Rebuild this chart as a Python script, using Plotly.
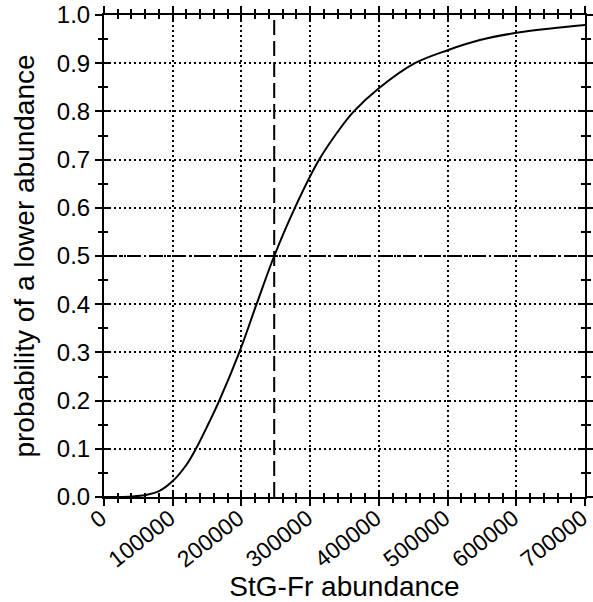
import plotly.graph_objects as go

# Data
abundance = [0, 20000, 40000, 60000, 80000, 100000, 120000, 133800, 150000, 167800,
             196900, 222000, 247700, 277800, 313200, 343300, 363600, 400000, 452400,
             500000, 547000, 600000, 650000, 700000]
probability = [0.0, 0.0, 0.001, 0.004, 0.012, 0.033, 0.067, 0.1, 0.146, 0.2,
               0.3, 0.4, 0.5, 0.6, 0.7, 0.764, 0.8, 0.848, 0.9,
               0.927, 0.948, 0.963, 0.972, 0.979]
median_abundance = 247700
median_prob = 0.5
x_ticks = [0, 100000, 200000, 300000, 400000, 500000, 600000, 700000]
x_tick_labels = ["0", "100000", "200000", "300000", "400000", "500000", "600000", "700000"]
y_ticks = [0.0, 0.1, 0.2, 0.3, 0.4, 0.5, 0.6, 0.7, 0.8, 0.9, 1.0]
y_tick_labels = ["0.0", "0.1", "0.2", "0.3", "0.4", "0.5", "0.6", "0.7", "0.8", "0.9", "1.0"]
x_range = [0, 700000]
y_range = [0, 1.0]

FONT = "Liberation Sans, Arial, sans-serif"

fig = go.Figure()

# horizontal dash-dot at 0.5
fig.add_trace(go.Scatter(x=x_range, y=[median_prob, median_prob], mode="lines",
                         line=dict(color="black", width=2, dash="13px,4px,2px,4px"),
                         hoverinfo="skip", showlegend=False))
# vertical dashed at median
fig.add_trace(go.Scatter(x=[median_abundance, median_abundance], y=y_range, mode="lines",
                         line=dict(color="black", width=2, dash="15px,6px"),
                         hoverinfo="skip", showlegend=False))
# CDF curve
fig.add_trace(go.Scatter(x=abundance, y=probability, mode="lines",
                         line=dict(color="black", width=2, shape="spline", smoothing=1.0),
                         showlegend=False))
# invisible trace for overlay axes (inside half of cross ticks)
fig.add_trace(go.Scatter(x=x_range, y=y_range, mode="lines", xaxis="x2", yaxis="y2",
                         line=dict(color="rgba(0,0,0,0)", width=0),
                         hoverinfo="skip", showlegend=False))

common_axis = dict(showline=True, linecolor="black", linewidth=2,
                   ticks="outside", tickcolor="black", tickwidth=2, ticklen=7,
                   mirror="ticks", zeroline=False, automargin=False,
                   ticklabeloverflow="allow")

fig.update_layout(
    width=593, height=602,
    paper_bgcolor="white", plot_bgcolor="white",
    margin=dict(l=104, r=8, t=15, b=105),
    xaxis=dict(range=x_range, tickvals=x_ticks, ticktext=x_tick_labels, tickangle=-38,
               ticklabelstandoff=-10, ticklabelshift=-3,
               tickfont=dict(family=FONT, size=23, color="black"),
               showgrid=True, gridcolor="black", gridwidth=1.5, griddash="2px,3px",
               minor=dict(dtick=20000, tick0=0, ticks="outside", ticklen=4,
                          tickwidth=2, tickcolor="black", showgrid=False),
               title=dict(text="StG-Fr abundance", font=dict(family=FONT, size=28, color="black"),
                          standoff=8),
               **common_axis),
    yaxis=dict(range=y_range, tickvals=y_ticks, ticktext=y_tick_labels,
               tickfont=dict(family=FONT, size=24, color="black"),
               showgrid=True, gridcolor="black", gridwidth=1.5, griddash="2px,3px",
               minor=dict(dtick=0.05, tick0=0, ticks="outside", ticklen=4,
                          tickwidth=2, tickcolor="black", showgrid=False),
               title=dict(text="probability of a lower abundance",
                          font=dict(family=FONT, size=28, color="black"), standoff=14),
               **common_axis),
    xaxis2=dict(overlaying="x", matches="x", range=x_range, showgrid=False, zeroline=False,
                showline=False, showticklabels=False, tickvals=x_ticks, automargin=False,
                ticks="inside", ticklen=7, tickwidth=2, tickcolor="black", mirror="ticks",
                minor=dict(dtick=20000, tick0=0, ticks="inside", ticklen=4,
                           tickwidth=2, tickcolor="black", showgrid=False)),
    yaxis2=dict(overlaying="y", matches="y", range=y_range, showgrid=False, zeroline=False,
                showline=False, showticklabels=False, tickvals=y_ticks, automargin=False,
                ticks="inside", ticklen=7, tickwidth=2, tickcolor="black", mirror="ticks",
                minor=dict(dtick=0.05, tick0=0, ticks="inside", ticklen=4,
                           tickwidth=2, tickcolor="black", showgrid=False)),
)

fig.write_html("out.html", config={"displayModeBar": False},
               post_script="document.body.style.margin='0px';document.body.style.overflow='hidden';")
